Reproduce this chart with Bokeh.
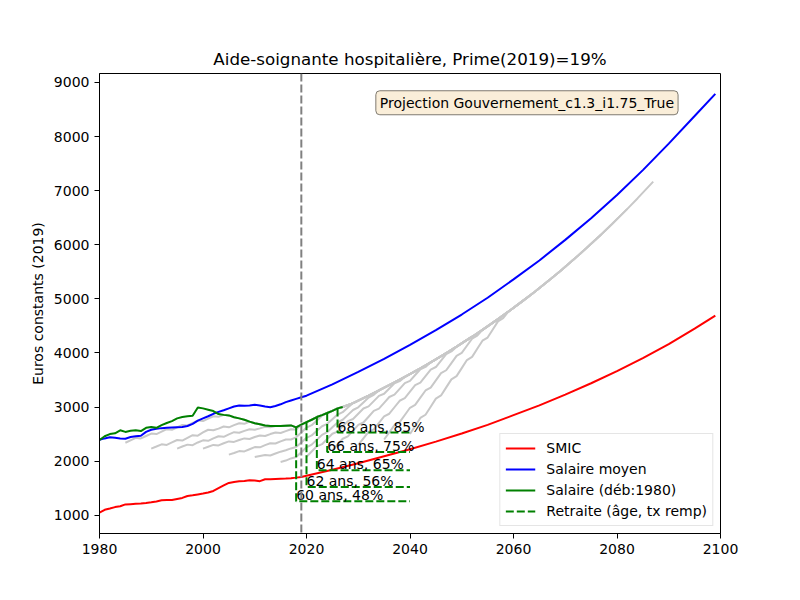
# -*- coding:utf-8 -*-
"Aide-soignante hospitaliere : salaires, SMIC, salaire moyen et retraites"

from bokeh.plotting import figure
from bokeh.models import Range1d, FixedTicker, Span, Label, Legend, LegendItem
from bokeh.core.properties import value
from bokeh.embed import file_html
from bokeh.resources import INLINE

# --- donnees (euros constants 2019) ---
annees_hist = list(range(1980, 2020))
annees_proj = [2020, 2025, 2030, 2035, 2040, 2045, 2050, 2055, 2060, 2065,
               2070, 2075, 2080, 2085, 2090, 2095, 2099]

smic_hist = [1050, 1100, 1124, 1150, 1165, 1200, 1205, 1210, 1215, 1227,
             1240, 1255, 1277, 1280, 1280, 1300, 1320, 1356, 1370, 1385,
             1400, 1420, 1449, 1500, 1550, 1597, 1615, 1628, 1633, 1645,
             1640, 1630, 1665, 1665, 1670, 1675, 1678, 1685, 1695, 1707]
smic_proj = [1730, 1840, 1960, 2090, 2220, 2360, 2510, 2670, 2850, 3030,
             3230, 3440, 3665, 3906, 4162, 4450, 4690]

moyen_hist = [2395, 2420, 2440, 2430, 2420, 2415, 2445, 2460, 2470, 2540,
              2580, 2600, 2610, 2615, 2620, 2625, 2630, 2650, 2690, 2750,
              2790, 2830, 2875, 2910, 2940, 2975, 3010, 3030, 3025, 3030,
              3040, 3030, 3010, 2995, 3020, 3050, 3090, 3120, 3150, 3180]
moyen_proj = [3210, 3420, 3650, 3890, 4150, 4420, 4710, 5020, 5360, 5710,
              6090, 6490, 6920, 7380, 7870, 8380, 8790]

# salaire de la carriere debutee en 1980
annees_salaire = list(range(1980, 2028))
salaire = [2390, 2460, 2500, 2515, 2570, 2540, 2560, 2570, 2555, 2615,
           2630, 2615, 2665, 2705, 2740, 2790, 2815, 2830, 2840, 2990,
           2975, 2950, 2925, 2870, 2855, 2845, 2810, 2790, 2765, 2730,
           2700, 2680, 2660, 2650, 2648, 2650, 2655, 2660, 2625, 2675,
           2720, 2765, 2815, 2850, 2890, 2930, 2975, 3000]

# haut de grille apres 2027
annees_sommet = [2029, 2032, 2034, 2037, 2039, 2042, 2044, 2047, 2049, 2052,
                 2054, 2057, 2059, 2062, 2064, 2067, 2069, 2072, 2074, 2077,
                 2079, 2082, 2084, 2087]
sommet = [3073, 3211, 3306, 3454, 3557, 3716, 3826, 3997, 4116, 4300,
          4427, 4626, 4763, 4976, 5123, 5353, 5512, 5758, 5929, 6194,
          6378, 6663, 6861, 7168]

# debuts de carriere des autres generations (20 premieres annees)
debuts = [1985, 1990, 1995, 2000, 2005, 2010, 2015, 2020, 2025, 2030, 2035, 2040]
c1985 = [2340, 2385, 2430, 2420, 2465, 2510, 2500, 2545, 2590, 2580, 2625, 2670, 2660, 2705, 2750, 2740, 2785, 2830, 2820, 2855]
c1990 = [2232, 2270, 2310, 2300, 2345, 2390, 2380, 2430, 2480, 2470, 2530, 2580, 2570, 2600, 2640, 2625, 2665, 2700, 2690, 2730]
c1995 = [2232, 2270, 2305, 2295, 2345, 2385, 2375, 2420, 2460, 2450, 2495, 2535, 2525, 2560, 2590, 2580, 2605, 2635, 2625, 2648]
c2000 = [2230, 2265, 2300, 2290, 2330, 2365, 2355, 2390, 2420, 2410, 2445, 2475, 2465, 2500, 2530, 2520, 2555, 2590, 2585, 2675]
c2005 = [2120, 2150, 2185, 2180, 2220, 2260, 2255, 2295, 2330, 2325, 2365, 2400, 2400, 2440, 2530, 2620, 2665, 2750, 2840, 2890]
c2010 = [2075, 2095, 2115, 2105, 2140, 2175, 2200, 2235, 2260, 2345, 2430, 2475, 2560, 2645, 2690, 2775, 2860, 2905, 2990, 3073]
c2015 = [1985, 2010, 2050, 2075, 2165, 2255, 2305, 2395, 2485, 2535, 2625, 2715, 2765, 2855, 2945, 2995, 3085, 3175, 3225, 3306]
c2020 = [2080, 2177, 2274, 2313, 2410, 2507, 2546, 2643, 2740, 2779, 2876, 2973, 3012, 3109, 3206, 3245, 3342, 3439, 3478, 3557]
c2025 = [2200, 2307, 2414, 2457, 2564, 2671, 2714, 2821, 2928, 2971, 3078, 3185, 3228, 3335, 3442, 3485, 3592, 3699, 3742, 3826]
c2030 = [2300, 2420, 2540, 2588, 2708, 2828, 2876, 2996, 3116, 3164, 3284, 3404, 3452, 3572, 3692, 3740, 3860, 3980, 4028, 4116]
c2035 = [2400, 2533, 2666, 2720, 2853, 2986, 3040, 3173, 3306, 3360, 3493, 3626, 3680, 3813, 3946, 4000, 4133, 4266, 4320, 4427]
c2040 = [2500, 2649, 2798, 2857, 3006, 3155, 3214, 3363, 3512, 3571, 3720, 3869, 3928, 4077, 4226, 4285, 4434, 4583, 4642, 4763]
carrieres = [c1985, c1990, c1995, c2000, c2005, c2010, c2015, c2020, c2025, c2030, c2035, c2040]
duree_carriere = 47

# departs en retraite
ages = [60, 62, 64, 66, 68]
annees_retraite = [2018, 2020, 2022, 2024, 2026]
taux = [48, 56, 65, 75, 85]
pensions = [1260, 1523, 1830, 2168, 2529]
fin_retraite = 2040

police = "DejaVu Sans"

p = figure(width=792, height=592, output_backend="svg", toolbar_location=None,
           title="Aide-soignante hospitalière, Prime(2019)=19%",
           x_range=Range1d(1980, 2100), y_range=Range1d(662, 9166),
           min_border_left=99, min_border_right=72, min_border_top=73, min_border_bottom=59)

# carrieres des autres generations (gris)
xs_gris, ys_gris = [], []
for debut, valeurs in zip(debuts, carrieres):
    xs = [debut + k for k in range(len(valeurs))]
    ys = list(valeurs)
    fin = debut + duree_carriere
    for a, v in list(zip(annees_salaire, salaire)) + list(zip(annees_sommet, sommet)):
        if xs[-1] < a <= fin:
            xs.append(a)
            ys.append(v)
    xs_gris.append(xs)
    ys_gris.append(ys)
p.multi_line(xs_gris, ys_gris, line_color="#c8c8c8", line_width=2)

r_smic = p.line(annees_hist + annees_proj, smic_hist + smic_proj, line_color="#ff0000", line_width=2)
r_moyen = p.line(annees_hist + annees_proj, moyen_hist + moyen_proj, line_color="#0000ff", line_width=2)
r_sal = p.line(annees_salaire, salaire, line_color="#008000", line_width=2)

xs_ret, ys_ret = [], []
for a, pen in zip(annees_retraite, pensions):
    s = salaire[annees_salaire.index(a)]
    xs_ret.append([a, a, fin_retraite])
    ys_ret.append([s, pen, pen])
r_ret = p.multi_line(xs_ret, ys_ret, line_color="#008000", line_width=2, line_dash="8 3")

p.text(x=annees_retraite, y=pensions,
       text=["%d ans, %d%%" % (a, t) for a, t in zip(ages, taux)],
       text_font=value(police), text_font_size="14px", text_color="black",
       text_baseline="bottom", text_align="left", y_offset=2)

p.add_layout(Span(location=2019, dimension="height", line_color="#808080",
                  line_width=2, line_dash="8 3"))

p.add_layout(Label(x=2062.6, y=8625, text="Projection Gouvernement_c1.3_i1.75_True",
                   text_font=police, text_font_size="14px", text_color="black",
                   text_align="center", text_baseline="middle",
                   background_fill_color="#faeed9", border_line_color="#7f7a70",
                   border_line_width=1, padding=4, border_radius=4))

legende = Legend(items=[LegendItem(label="SMIC", renderers=[r_smic]),
                        LegendItem(label="Salaire moyen", renderers=[r_moyen]),
                        LegendItem(label="Salaire (déb:1980)", renderers=[r_sal]),
                        LegendItem(label="Retraite (âge, tx remp)", renderers=[r_ret])],
                 location="bottom_right", margin=7, padding=5, spacing=3,
                 label_height=18, glyph_height=18, glyph_width=30, label_standoff=11,
                 label_text_font=police, label_text_font_size="14px",
                 label_text_color="black",
                 border_line_color="#cccccc", background_fill_alpha=0.8)
p.add_layout(legende)

p.title.align = "center"
p.title.text_font = police
p.title.text_font_size = "16.7px"
p.title.text_font_style = "normal"
p.title.text_color = "black"

p.xaxis.ticker = FixedTicker(ticks=[1980, 2000, 2020, 2040, 2060, 2080, 2100])
p.yaxis.ticker = FixedTicker(ticks=[1000, 2000, 3000, 4000, 5000, 6000, 7000, 8000, 9000])
p.yaxis.axis_label = "Euros constants (2019)"
p.axis.axis_label_text_font = police
p.axis.axis_label_text_font_size = "14px"
p.axis.axis_label_text_font_style = "normal"
p.axis.axis_label_text_color = "black"
p.axis.major_label_text_font = police
p.axis.major_label_text_font_size = "14px"
p.axis.major_label_text_color = "black"
p.axis.axis_line_color = "black"
p.axis.major_tick_line_color = "black"
p.axis.minor_tick_line_color = None
p.axis.major_tick_out = 5
p.axis.major_tick_in = 0
p.grid.visible = False
p.outline_line_color = "black"

open("out.html", "w").write(file_html(p, INLINE))
